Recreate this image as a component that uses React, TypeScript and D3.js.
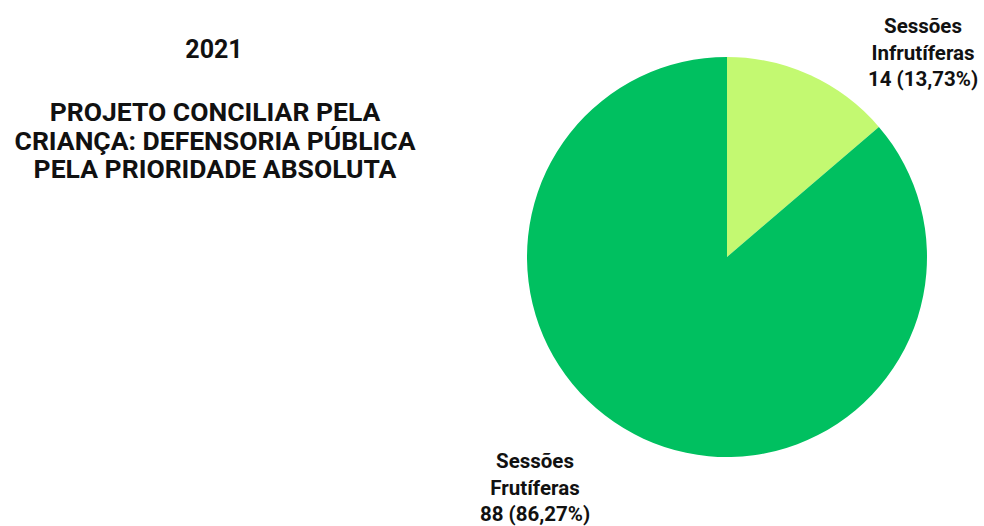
import React from "react";
import * as d3 from "d3";

const categories = ["Sessões Infrutíferas", "Sessões Frutíferas"];
const values = [14, 88];
const percentLabels = ["13,73%", "86,27%"];
const colors = ["#c3f971", "#00c060"];
const titleYear = "2021";
const titleLines = ["PROJETO CONCILIAR PELA", "CRIANÇA: DEFENSORIA PÚBLICA", "PELA PRIORIDADE ABSOLUTA"];

export default function App() {
  const W = 984, H = 526;
  const cx = 727, cy = 257, r = 200;
  const pie = d3.pie<number>().sort(null).value((d) => d);
  const arcs = pie(values);
  const arc = d3.arc<d3.PieArcDatum<number>>().innerRadius(0).outerRadius(r);
  const labelPos = [
    { x: 923, y: 33 },
    { x: 535, y: 468 },
  ];
  const font = "Roboto, 'Noto Sans', sans-serif";
  return (
    <svg width={W} height={H} style={{ position: "absolute", left: 0, top: 0, background: "#fff" }}>
      <text x={214} y={58} textAnchor="middle" fontFamily={font} fontWeight={700} fontSize={25} fill="#111">
        {titleYear}
      </text>
      {titleLines.map((t, i) => (
        <text key={i} x={215} y={121 + i * 28.5} textAnchor="middle" fontFamily={font} fontWeight={700} fontSize={26.5} fill="#111">
          {t}
        </text>
      ))}
      <g transform={`translate(${cx},${cy})`}>
        {arcs.map((a, i) => (
          <path key={i} d={arc(a) || ""} fill={colors[i]} />
        ))}
      </g>
      {categories.map((c, i) => {
        const parts = c.split(" ");
        const lines = [parts[0], parts.slice(1).join(" "), `${values[i]} (${percentLabels[i]})`];
        return lines.map((l, j) => (
          <text key={`${i}-${j}`} x={labelPos[i].x} y={labelPos[i].y + j * 26.5} textAnchor="middle" fontFamily={font} fontWeight={700} fontSize={20.5} fill="#111">
            {l}
          </text>
        ));
      })}
    </svg>
  );
}
